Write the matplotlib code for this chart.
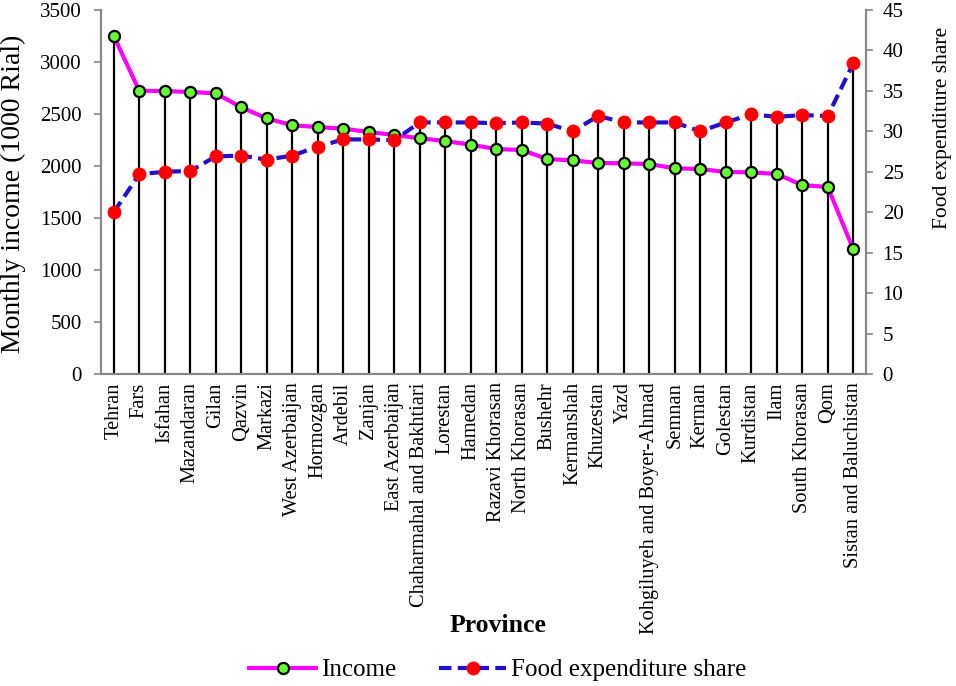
import matplotlib
matplotlib.use("Agg")
import matplotlib.pyplot as plt
import numpy as np

provinces = ["Tehran", "Fars", "Isfahan", "Mazandaran", "Gilan", "Qazvin", "Markazi",
             "West Azerbaijan", "Hormozgan", "Ardebil", "Zanjan", "East Azerbaijan",
             "Chaharmahal and Bakhtiari", "Lorestan", "Hamedan", "Razavi Khorasan",
             "North Khorasan", "Bushehr", "Kermanshah", "Khuzestan", "Yazd",
             "Kohgiluyeh and Boyer-Ahmad", "Semnan", "Kerman", "Golestan", "Kurdistan",
             "Ilam", "South Khorasan", "Qom", "Sistan and Baluchistan"]
income = [3250, 2724, 2720, 2712, 2699, 2564, 2458, 2391, 2375, 2359, 2327, 2298,
          2266, 2240, 2205, 2163, 2154, 2067, 2054, 2029, 2026, 2019, 1978, 1971,
          1942, 1939, 1923, 1817, 1798, 1199]
food_share = [20.0, 24.7, 25.0, 25.1, 26.9, 27.0, 26.5, 27.0, 28.1, 29.0, 29.0, 28.9,
              31.1, 31.1, 31.1, 31.0, 31.1, 30.95, 30.0, 31.9, 31.1, 31.1, 31.1, 30.0,
              31.1, 32.1, 31.8, 32.0, 31.9, 38.4]
left_ticks = [0, 500, 1000, 1500, 2000, 2500, 3000, 3500]
right_ticks = [0, 5, 10, 15, 20, 25, 30, 35, 40, 45]

plt.rcParams['font.family'] = ['Liberation Serif', 'DejaVu Serif']

fig = plt.figure(figsize=(9.56, 6.86), dpi=100)
ax1 = fig.add_axes([101/956, 1-374/686, (866-101)/956, (374-10)/686])
ax2 = ax1.twinx()

x = np.arange(len(provinces))
ymax1 = 3500
ymax2 = 45

# drop lines from axis to higher of the two series
tops = np.maximum(np.array(income), np.array(food_share) * ymax1 / ymax2)
ax1.vlines(x, 0, tops, colors='black', linewidth=1.6, zorder=1)

l1, = ax1.plot(x, income, color='#FF00FF', linewidth=3, marker='o', markersize=8,
               markerfacecolor='#66FF33', markeredgecolor='black', markeredgewidth=1.6,
               zorder=3, label='Income')
l2, = ax2.plot(x, food_share, color='#2211CC', linewidth=3, linestyle=(0, (3, 1.5)),
               marker='o', markersize=9, markerfacecolor='#FF0000', markeredgecolor='#FF0000',
               zorder=3, label='Food expenditure share')

ax1.set_xlim(-0.5, len(provinces) - 0.5)
ax1.set_ylim(0, ymax1)
ax2.set_ylim(0, ymax2)
ax1.set_yticks(left_ticks)
ax2.set_yticks(right_ticks)
ax1.set_xticks(x)
ax1.set_xticklabels(provinces, rotation=90, fontsize=14.7)
ax1.tick_params(axis='x', length=0, pad=6)
ax1.tick_params(axis='y', labelsize=15, direction='out', length=5, color='#888888', width=1.2, pad=9)
ax2.tick_params(axis='y', labelsize=15, direction='out', length=5, color='#888888', width=1.2, pad=7)

for ax in (ax1, ax2):
    ax.spines['top'].set_visible(False)
    for s in ('left', 'right', 'bottom'):
        ax.spines[s].set_color('#888888')
        ax.spines[s].set_linewidth(1.5)

fig.text(13/956, 1-194/686, 'Monthly income (1000 Rial)', fontsize=20, rotation=90,
         ha='center', va='center')
fig.text(943/956, 1-128/686, 'Food expenditure share', fontsize=15.5, rotation=90,
         ha='center', va='center')
fig.text(498/956, 1-625/686, 'Province', fontsize=18.5, fontweight='bold', ha='center', va='center')

fig.legend(handles=[l1, l2], loc='center', bbox_to_anchor=(498/956, 1-670/686), ncol=2,
           frameon=False, fontsize=18, handlelength=2.68, columnspacing=1.7, handletextpad=0.2)

fig.savefig('out.png', dpi=100)
